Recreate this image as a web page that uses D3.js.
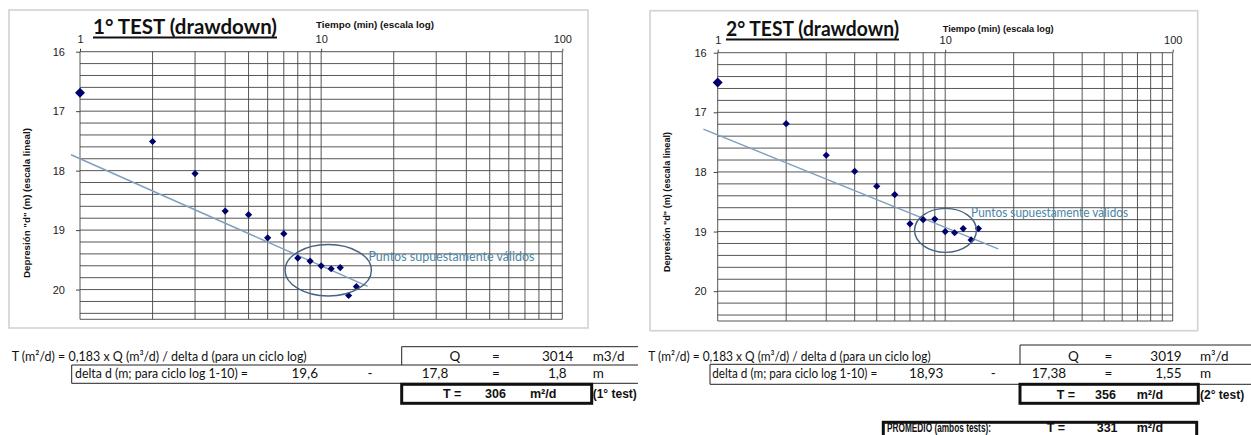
<!DOCTYPE html>
<html>
<head>
<meta charset="utf-8">
<script src="https://cdn.jsdelivr.net/npm/d3@7"></script>
<style>
body { margin: 0; background: #fff; }
svg { display: block; }
.cal { font-family: Lato, "Open Sans", sans-serif; }
.ari { font-family: "Liberation Sans", Arial, sans-serif; }
</style>
</head>
<body>
<svg id="chart" width="1251" height="435"></svg>
<script>
// ---- datos ----
var tiempo = [1, 2, 3, 4, 5, 6, 7, 8, 9, 10, 11, 12, 13, 14];
var depresion1 = [16.69, 17.51, 18.05, 18.68, 18.74, 19.13, 19.06, 19.47, 19.52, 19.60, 19.65, 19.63, 20.10, 19.95];
var depresion2 = [16.50, 17.19, 17.72, 17.99, 18.24, 18.38, 18.87, 18.80, 18.79, 19.00, 19.02, 18.95, 19.14, 18.95];
var yTicks = [16, 17, 18, 19, 20];
var xTickLabels = [1, 10, 100];
var titulos = ["1° TEST (drawdown)", "2° TEST (drawdown)"];
var etiquetasTest = ["(1° test)", "(2° test)"];

// tabla de calculo
var caudal = [3014, 3019];
var unidadQ = ["m3/d", "m³/d"];
var dCiclo10 = [19.6, 18.93];
var dCiclo1 = [17.8, 17.38];
var deltaD = [1.8, 1.55];
var transm = [306, 356];
var promedio = 331;
// tramo dibujado de la recta (min)
var rectaDesde = [0.918, 0.865];
var rectaHasta = [15.6, 17.1];

var series = [depresion1, depresion2];
var coma = function(v) { return String(v).replace(".", ","); };
var ARIAL = "\"Liberation Sans\", Arial, sans-serif";

var svg = d3.select("#chart");

// ---- layout de cada panel (pixeles) ----
var paneles = [
  { frame: [9, 10, 579, 318], x0: 80, x1: 562.3, y0: 51.7, y1: 319.3,
    title: { x: 93, y: 34, w: 184 }, tlab: { x: 316, y: 27.7, w: 118 },
    ytit: { x: 27, y: 203, w: 150 }, pad: 11,
    elipse: { t: 10.7, d: 19.675, rdec: 0.179, rd: 0.433 },
    nota: { t: 15.7, d: 19.52, w: 166 } },
  { frame: [650, 10.7, 547.7, 320], x0: 717.7, x1: 1172.7, y0: 52.7, y1: 321,
    title: { x: 726, y: 36, w: 173 }, tlab: { x: 942.7, y: 32.3, w: 111 },
    ytit: { x: 667, y: 202, w: 140 }, pad: 7,
    elipse: { t: 10.03, d: 18.98, rdec: 0.136, rd: 0.369 },
    nota: { t: 13.0, d: 18.76, w: 157 } }
];

function panel(i, L) {
  var g = svg.append("g");
  var x = d3.scaleLog().domain([1, 100]).range([L.x0, L.x1]);
  var y = d3.scaleLinear().domain([16, 20.5]).range([L.y0, L.y1]);

  g.append("rect")
    .attr("x", L.frame[0]).attr("y", L.frame[1])
    .attr("width", L.frame[2]).attr("height", L.frame[3])
    .attr("fill", "#fff").attr("stroke", "#d2d2d2").attr("stroke-width", 1.6);

  // grilla
  var hs = y.ticks(22).concat([20.5]);
  g.selectAll(".h").data(hs).join("line")
    .attr("x1", L.x0).attr("x2", L.x1)
    .attr("y1", function(d) { return y(d); }).attr("y2", function(d) { return y(d); })
    .attr("stroke", "#444").attr("stroke-width", 0.9);
  g.selectAll(".v").data(x.ticks()).join("line")
    .attr("y1", L.y0).attr("y2", L.y1)
    .attr("x1", function(d) { return x(d); }).attr("x2", function(d) { return x(d); })
    .attr("stroke", "#444").attr("stroke-width", 0.9);

  // ejes
  var ax = g.append("g")
    .attr("transform", "translate(0," + L.y0 + ")")
    .call(d3.axisTop(x).tickValues(xTickLabels).tickFormat(d3.format("d")).tickSize(3).tickPadding(6));
  var ay = g.append("g")
    .attr("transform", "translate(" + L.x0 + ",0)")
    .call(d3.axisLeft(y).tickValues(yTicks).tickFormat(d3.format("d")).tickSize(4).tickPadding(L.pad));
  [ax, ay].forEach(function(a) {
    a.select(".domain").remove();
    a.selectAll("line").attr("stroke", "#444");
    a.selectAll("text").style("font-family", ARIAL).style("font-size", "11px").attr("fill", "#222");
  });

  // titulos
  g.append("text").attr("class", "cal")
    .attr("x", L.title.x).attr("y", L.title.y)
    .attr("textLength", L.title.w).attr("lengthAdjust", "spacingAndGlyphs")
    .style("font-size", "21px").style("font-weight", "bold").attr("fill", "#111")
    .text(titulos[i]);
  g.append("line")
    .attr("x1", L.title.x).attr("x2", L.title.x + L.title.w)
    .attr("y1", L.title.y + 3.6).attr("y2", L.title.y + 3.6)
    .attr("stroke", "#111").attr("stroke-width", 2);
  g.append("text").attr("class", "ari")
    .attr("x", L.tlab.x).attr("y", L.tlab.y)
    .attr("textLength", L.tlab.w).attr("lengthAdjust", "spacingAndGlyphs")
    .style("font-size", "9px").style("font-weight", "bold").attr("fill", "#111")
    .text("Tiempo (min) (escala log)");
  g.append("text").attr("class", "ari")
    .attr("transform", "translate(" + L.ytit.x + "," + L.ytit.y + ") rotate(-90)")
    .attr("text-anchor", "middle").attr("dy", "0.35em")
    .attr("textLength", L.ytit.w).attr("lengthAdjust", "spacingAndGlyphs")
    .style("font-size", "9.5px").style("font-weight", "bold").attr("fill", "#111")
    .text("Depresión \"d\" (m) (escala lineal)");

  // recta de Jacob: d = d(1 min) + delta d * log10(t)
  var recta = d3.line()
    .x(function(t) { return x(t); })
    .y(function(t) { return y(dCiclo1[i] + deltaD[i] * Math.log10(t)); });
  g.append("path")
    .attr("d", recta([rectaDesde[i], rectaHasta[i]]))
    .attr("fill", "none").attr("stroke", "#7f9fbc").attr("stroke-width", 1.4);

  // puntos
  var pts = tiempo.map(function(t, k) { return { t: t, d: series[i][k] }; });
  g.selectAll(".pt").data(pts).join("path")
    .attr("transform", function(p) { return "translate(" + x(p.t) + "," + y(p.d) + ") rotate(45)"; })
    .attr("d", function(p, k) { return d3.symbol(d3.symbolSquare, k === 0 ? 50 : 26)(); })
    .attr("fill", "#00006e");

  // elipse y nota
  var E = L.elipse;
  var cx = x(E.t), cy = y(E.d);
  g.append("ellipse")
    .attr("cx", cx).attr("cy", cy)
    .attr("rx", x(E.t * Math.pow(10, E.rdec)) - cx)
    .attr("ry", y(E.d + E.rd) - cy)
    .attr("fill", "none").attr("stroke", "#45627f").attr("stroke-width", 1.4);
  g.append("text").attr("class", "cal")
    .attr("x", x(L.nota.t)).attr("y", y(L.nota.d))
    .attr("textLength", L.nota.w).attr("lengthAdjust", "spacingAndGlyphs")
    .style("font-size", "12.5px").attr("fill", "#4a86a6")
    .text("Puntos supuestamente válidos");
}

paneles.forEach(function(L, i) { panel(i, L); });

// ---- tablas ----
var tablas = [
  { fx: 11.7, fw: 295, qx: 401.7, qy: 346.7, right: 638, rx: 71.7, ry: 365, ry2: 383.3,
    bx: 401.7, by: 384.3, bw: 190, r1: 361, r2: 378.3, r3: 398.3,
    q: 455, eq: 496, num: 573.3, unit: 592.7, lab: 75, labW: 173, d10: 318, minus: 370,
    d1: 421.7, dnum: 566.7, tT: 443, tV: 485, tU: 530, tag: 592.7 },
  { fx: 648.3, fw: 282.4, qx: 1020, qy: 345, right: 1251, rx: 710, ry: 364.3, ry2: 384.3,
    bx: 1020, by: 384.3, bw: 178.3, r1: 361, r2: 378.3, r3: 399,
    q: 1073.3, eq: 1108.3, num: 1181.7, unit: 1200, lab: 712.3, labW: 165, d10: 943.3, minus: 993.3,
    d1: 1031.7, dnum: 1181.7, tT: 1056.7, tV: 1095, tU: 1136.7, tag: 1200 }
];

function txt(g, x, y, s, o) {
  o = o || {};
  var t = g.append("text").attr("class", o.bold ? "ari" : "cal")
    .attr("x", x).attr("y", y)
    .attr("text-anchor", o.anchor || "start")
    .style("font-size", (o.size || 13.5) + "px")
    .style("font-weight", o.bold ? "bold" : "normal")
    .attr("fill", "#111").text(s);
  if (o.w) t.attr("textLength", o.w).attr("lengthAdjust", "spacingAndGlyphs");
  return t;
}

function linea(g, x1, y1, x2, y2, w) {
  g.append("line").attr("x1", x1).attr("y1", y1).attr("x2", x2).attr("y2", y2)
    .attr("stroke", "#222").attr("stroke-width", w || 1);
}

tablas.forEach(function(T, i) {
  var g = svg.append("g");
  txt(g, T.fx, T.r1, "T (m²/d) = 0,183 x Q (m³/d) / delta d (para un ciclo log)", { w: T.fw, size: 14 });
  // bordes finos
  linea(g, T.qx, T.qy, T.right, T.qy);
  linea(g, T.qx, T.qy, T.qx, T.ry);
  linea(g, T.rx, T.ry, T.right, T.ry);
  linea(g, T.rx, T.ry, T.rx, T.ry2);
  linea(g, T.rx, T.ry2, T.right, T.ry2);
  // fila Q
  txt(g, T.q, T.r1, "Q", { anchor: "middle" });
  txt(g, T.eq, T.r1, "=", { anchor: "middle" });
  txt(g, T.num, T.r1, String(caudal[i]), { anchor: "end" });
  txt(g, T.unit, T.r1, unidadQ[i]);
  // fila delta d
  txt(g, T.lab, T.r2, "delta d (m; para ciclo log 1-10) =", { w: T.labW, size: 14 });
  txt(g, T.d10, T.r2, coma(dCiclo10[i]), { anchor: "end" });
  txt(g, T.minus, T.r2, "-", { anchor: "middle" });
  txt(g, T.d1, T.r2, coma(dCiclo1[i]));
  txt(g, T.eq, T.r2, "=", { anchor: "middle" });
  txt(g, T.dnum, T.r2, coma(deltaD[i]), { anchor: "end" });
  txt(g, T.unit, T.r2, "m");
  // resultado
  g.append("rect").attr("x", T.bx).attr("y", T.by).attr("width", T.bw).attr("height", 19)
    .attr("fill", "#fff").attr("stroke", "#111").attr("stroke-width", 3);
  txt(g, T.tT, T.r3, "T =", { bold: true, size: 12.5 });
  txt(g, T.tV, T.r3, String(transm[i]), { bold: true, size: 12.5 });
  txt(g, T.tU, T.r3, "m²/d", { bold: true, size: 12.5 });
  txt(g, T.tag, T.r3, etiquetasTest[i], { bold: true, size: 12 });
});

// promedio
var gp = svg.append("g");
gp.append("rect").attr("x", 883.3).attr("y", 422.3).attr("width", 313.4).attr("height", 24)
  .attr("fill", "#fff").attr("stroke", "#111").attr("stroke-width", 3);
txt(gp, 887, 432.3, "PROMEDIO (ambos tests):", { bold: true, size: 12.5, w: 104 });
txt(gp, 1046.7, 432.3, "T =", { bold: true, size: 12.5 });
txt(gp, 1096.7, 432.3, String(promedio), { bold: true, size: 12.5 });
txt(gp, 1136.7, 432.3, "m²/d", { bold: true, size: 12.5 });
</script>
</body>
</html>
